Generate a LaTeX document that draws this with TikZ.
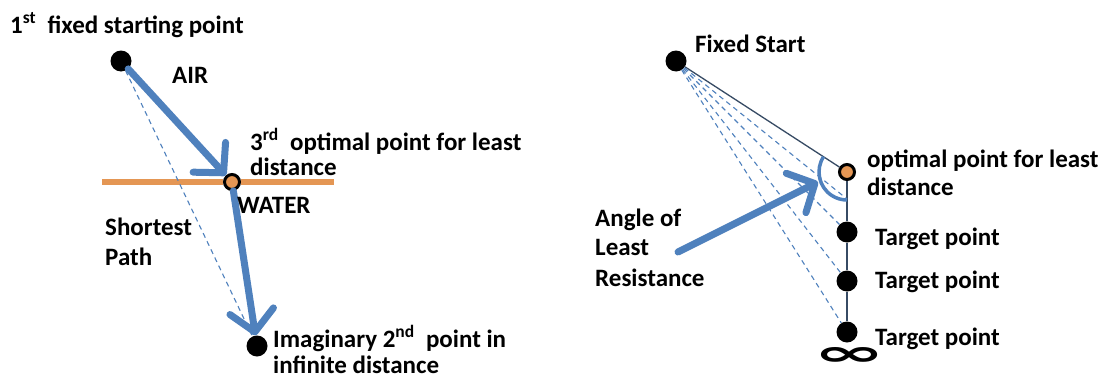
\documentclass[tikz,border=0pt]{standalone}
\usepackage{fontspec}
\usepackage{graphicx}
\setmainfont{Carlito}
\newfontfamily\djv{DejaVu Sans}
\usetikzlibrary{arrows.meta}
\definecolor{offblue}{RGB}{79,129,189}
\definecolor{offorange}{RGB}{228,150,84}
\definecolor{darkline}{RGB}{55,75,100}
\begin{document}
\begin{tikzpicture}[x=1pt,y=1pt,
  lbl/.style={anchor=base west, inner sep=0pt, font=\fontsize{25}{29}\selectfont\bfseries},
  dot/.style={circle, fill=black, minimum size=21pt, inner sep=0pt},
  odot/.style={circle, fill=offorange, draw=black, line width=3pt, minimum size=15pt, inner sep=0pt},
  bigarrow/.style={draw=offblue, line width=7pt, line cap=round, -{Straight Barb[length=21pt, width=44pt, round]}},
  dashline/.style={draw=offblue, line width=1.1pt, dash pattern=on 5pt off 4pt},
  thinline/.style={draw=darkline, line width=1.3pt},
  waterline/.style={draw=offorange, line width=6pt},
  arcline/.style={draw=offblue, line width=3.5pt}
]
\useasboundingbox (0,0) rectangle (1110,-380);
\fill[white] (0,0) rectangle (1110,-380);

% ---------- left panel ----------
\node[dot]  (s1) at (121,-61) {};
\node[odot] (o1) at (232,-182) {};
\node[dot]  (e1) at (257,-346) {};
\coordinate (wl) at (102,-182);
\coordinate (wr) at (334,-182);
\draw[waterline] (wl) -- (o1);
\draw[waterline] (o1) -- (wr);
\draw[dashline] (s1) -- (e1);
\draw[bigarrow] (s1) -- (o1);
\draw[bigarrow] (o1) -- (e1);

\node[lbl] (l1) at (10,-33) {1\textsuperscript{st}\ \ fixed starting point};
\node[lbl] (lair) at (172,-83) {AIR};
\node[lbl] (l3a) at (250,-150) {3\textsuperscript{rd}\ \ optimal point for least};
\node[lbl] (l3b) at (250,-175) {distance};
\node[lbl] (lw) at (237,-213) {WATER};
\node[lbl] (lsa) at (105,-235) {Shortest};
\node[lbl] (lsb) at (105,-265) {Path};
\node[lbl] (l2a) at (273,-347) {Imaginary 2\textsuperscript{nd}\ \ point in};
\node[lbl] (l2b) at (273,-373) {infinite distance};

% ---------- right panel ----------
\node[dot]  (s2) at (676,-61) {};
\node[odot] (o2) at (847,-172) {};
\node[dot]  (t1) at (847,-232) {};
\node[dot]  (t2) at (847,-281) {};
\node[dot]  (t3) at (847,-332) {};
\coordinate (a1) at (847,-199);
\draw[thinline] (s2) -- (o2);
\draw[thinline] (o2) -- (t1);
\draw[thinline] (t1) -- (t2);
\draw[thinline] (t2) -- (t3);
\draw[dashline] (s2) -- (a1);
\draw[dashline] (s2) -- (t1);
\draw[dashline] (s2) -- (t2);
\draw[dashline] (s2) -- (t3);
\draw[arcline] (o2.center) ++(147:28) arc[start angle=147, end angle=270, radius=28];
\coordinate (ah) at (678,-252);
\coordinate (at) at (818,-182);
\draw[bigarrow] (ah) -- (at);

\node[inner sep=0pt] (inf) at (849,-356) {\resizebox{72pt}{18pt}{\djv\bfseries ∞}};

\node[lbl] (lfs) at (695,-52) {Fixed Start};
\node[lbl] (loa) at (867,-167) {optimal point for least};
\node[lbl] (lob) at (867,-195) {distance};
\node[lbl] (laa) at (595,-226) {Angle of};
\node[lbl] (lab) at (595,-255) {Least};
\node[lbl] (lac) at (595,-286) {Resistance};
\node[lbl] (lt1) at (875,-245) {Target point};
\node[lbl] (lt2) at (875,-288) {Target point};
\node[lbl] (lt3) at (875,-345) {Target point};
\end{tikzpicture}
\end{document}
